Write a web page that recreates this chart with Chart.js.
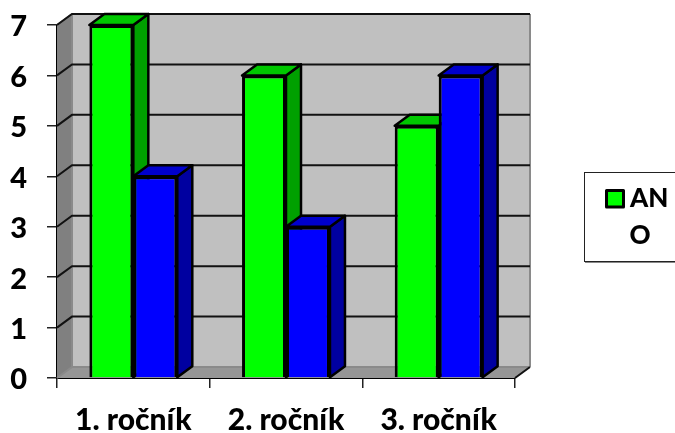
<!DOCTYPE html>
<html><head><meta charset="utf-8">
<style>html,body{margin:0;padding:0;background:#fff}canvas{display:block}</style>
<script src="https://cdn.jsdelivr.net/npm/chart.js@4"></script>
</head><body>
<canvas id="c" width="675" height="433"></canvas>
<script>
const categories = ['1. ročník', '2. ročník', '3. ročník'];
const anoValues = [7, 6, 5];
const blueValues = [4, 3, 6];
const legendLines = ['AN', 'O'];
const FONT = 'Lato, Carlito, sans-serif';
const DX = 15, DY = 11;

function poly(ctx, pts, fill, stroke, lw) {
  ctx.beginPath();
  pts.forEach((p, i) => i ? ctx.lineTo(p[0], p[1]) : ctx.moveTo(p[0], p[1]));
  ctx.closePath();
  if (fill) { ctx.fillStyle = fill; ctx.fill(); }
  if (stroke) { ctx.strokeStyle = stroke; ctx.lineWidth = lw; ctx.lineJoin = 'round'; ctx.stroke(); }
}

const shades = [
  { top: '#00C800', side: '#00A000' },
  { top: '#0000CC', side: '#0000A0' }
];

const threeD = {
  id: 'threeD',
  beforeDatasetsDraw(chart) {
    const ctx = chart.ctx, a = chart.chartArea, ys = chart.scales.y;
    ctx.save();
    // walls
    poly(ctx, [[a.left + DX, a.top - DY], [a.right + DX, a.top - DY], [a.right + DX, a.bottom - DY], [a.left + DX, a.bottom - DY]], '#C0C0C0');
    poly(ctx, [[a.left, a.top], [a.left + DX, a.top - DY], [a.left + DX, a.bottom - DY], [a.left, a.bottom]], '#808080');
    poly(ctx, [[a.left, a.bottom], [a.left + DX, a.bottom - DY], [a.right + DX, a.bottom - DY], [a.right, a.bottom]], '#969696');
    // wall edges
    ctx.strokeStyle = '#8a8a8a'; ctx.lineWidth = 2;
    ctx.beginPath();
    ctx.moveTo(a.right + DX, a.top - DY); ctx.lineTo(a.right + DX, a.bottom - DY);
    ctx.moveTo(a.left + DX, a.top - DY); ctx.lineTo(a.left + DX, a.bottom - DY); ctx.lineTo(a.left, a.bottom);
    ctx.moveTo(a.left + DX, a.bottom - DY); ctx.lineTo(a.right + DX, a.bottom - DY);
    ctx.moveTo(a.left, a.top); ctx.lineTo(a.left + DX, a.top - DY);
    ctx.stroke();
    // floor right edge and back wall top edge
    ctx.strokeStyle = '#111';
    ctx.beginPath();
    ctx.moveTo(a.right, a.bottom); ctx.lineTo(a.right + DX, a.bottom - DY);
    ctx.moveTo(a.left + DX, a.top - DY); ctx.lineTo(a.right + DX, a.top - DY);
    ctx.stroke();
    // gridlines
    ctx.strokeStyle = '#111'; ctx.lineWidth = 2;
    ys.ticks.forEach(t => {
      if (t.value === 0) return;
      const y = ys.getPixelForValue(t.value);
      ctx.beginPath();
      ctx.moveTo(a.left, y); ctx.lineTo(a.left + DX, y - DY); ctx.lineTo(a.right + DX, y - DY);
      ctx.stroke();
    });
    // bar depth faces
    chart.data.datasets.forEach((ds, i) => {
      chart.getDatasetMeta(i).data.forEach(el => {
        const x1 = el.x - el.width / 2, x2 = el.x + el.width / 2;
        poly(ctx, [[x2, el.y], [x2 + DX, el.y - DY], [x2 + DX, el.base - DY], [x2, el.base]], shades[i].side, '#000', 2.5);
        poly(ctx, [[x1, el.y], [x1 + DX, el.y - DY], [x2 + DX, el.y - DY], [x2, el.y]], shades[i].top, '#000', 2.5);
      });
    });
    ctx.restore();
  },
  afterDraw(chart) {
    const ctx = chart.ctx;
    ctx.save();
    // legend box
    ctx.strokeStyle = '#222'; ctx.lineWidth = 1;
    ctx.fillStyle = '#fff';
    ctx.fillRect(584.5, 172.5, 95, 89);
    ctx.strokeRect(584.5, 172.5, 95, 89);
    ctx.strokeStyle = '#888';
    ctx.beginPath(); ctx.moveTo(585, 262.5); ctx.lineTo(675, 262.5); ctx.stroke();
    poly(ctx, [[606.5, 190.5], [623.5, 190.5], [623.5, 207], [606.5, 207]], '#00FF00', '#000', 3);
    ctx.fillStyle = '#000';
    ctx.font = '900 26px ' + FONT;
    ctx.textBaseline = 'middle';
    ctx.textAlign = 'left';
    ctx.fillText(legendLines[0], 630, 199);
    ctx.textAlign = 'center';
    ctx.fillText(legendLines[1], 640, 236);
    ctx.restore();
  }
};

new Chart(document.getElementById('c'), {
  type: 'bar',
  data: {
    labels: categories,
    datasets: [
      { label: 'ANO', data: anoValues, backgroundColor: '#00FF00', borderColor: '#000', borderWidth: 3 },
      { data: blueValues, backgroundColor: '#0000FF', borderColor: '#000', borderWidth: 3 }
    ]
  },
  options: {
    responsive: false,
    animation: false,
    devicePixelRatio: 1,
    layout: { padding: { top: 25, right: 160, left: 0, bottom: 0 } },
    plugins: { legend: { display: false }, tooltip: { enabled: false } },
    datasets: { bar: { barPercentage: 1, categoryPercentage: 0.576 } },
    scales: {
      x: {
        afterFit(s) { s.height = 55; },
        grid: { drawOnChartArea: false, tickLength: 10, color: '#222', lineWidth: 1.5 },
        border: { display: true, color: '#000', width: 2 },
        ticks: { color: '#000', font: { family: FONT, size: 30, weight: '900' }, padding: 14, maxRotation: 0, autoSkip: false }
      },
      y: {
        min: 0, max: 7,
        afterFit(s) { s.width = 57; s.paddingTop = 0; s.paddingBottom = 0; },
        grid: { drawOnChartArea: false, tickLength: 10, color: '#222', lineWidth: 1.5 },
        border: { display: true, color: '#000', width: 2 },
        ticks: { stepSize: 1, color: '#000', font: { family: FONT, size: 29, weight: '900' }, padding: 20, labelOffset: 2 }
      }
    }
  },
  plugins: [threeD]
});
</script>
</body></html>
